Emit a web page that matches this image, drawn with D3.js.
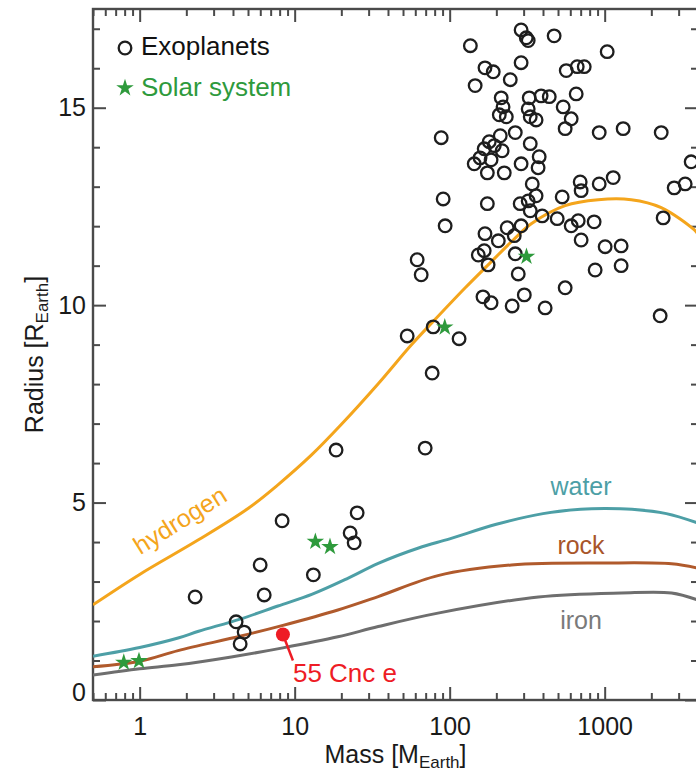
<!DOCTYPE html>
<html>
<head>
<meta charset="utf-8">
<script src="https://cdn.jsdelivr.net/npm/d3@7"></script>
<style>
  html, body { margin: 0; padding: 0; background: #fff; }
  svg { display: block; font-family: "Liberation Sans", Arial, Helvetica, sans-serif; }
</style>
</head>
<body>
<div id="chart"></div>
<script>
// Exoplanet mass (Earth masses) and radius (Earth radii)
const exoMass = [
  289, 312, 321, 472, 136, 1038, 289, 169, 191, 246,
  146, 565, 665, 738, 215, 326, 389, 439, 655, 221,
  209, 232, 321, 331, 361, 540, 608, 556, 88.2, 265,
  212, 331, 922, 1316, 2316, 144, 157, 167, 180, 194,
  185, 218, 175, 225, 289, 378, 372, 90.8, 175, 93.5,
  341, 361, 285, 321, 331, 532, 695, 705, 922, 1135,
  395, 494, 675, 608, 855, 235, 289, 169, 206, 261,
  705, 1007, 1277, 153, 167, 265, 2384, 2808, 3306, 3614,
  61.7, 65.5, 177, 277, 868, 1277, 164, 185, 303, 253,
  413, 556, 2280, 53.2, 78.3, 115, 77.1, 69.5, 18.5, 8.30,
  25.3, 22.8, 24.2, 5.99, 13.2, 2.28, 6.36, 4.19, 4.72, 4.45
];
const exoRadius = [
  16.97, 16.77, 16.70, 16.82, 16.57, 16.42, 16.14, 16.01, 15.91, 15.71,
  15.56, 15.94, 16.04, 16.04, 15.25, 15.25, 15.30, 15.28, 15.35, 15.02,
  14.82, 14.77, 14.97, 14.77, 14.69, 15.02, 14.72, 14.47, 14.24, 14.37,
  14.29, 14.09, 14.37, 14.47, 14.37, 13.58, 13.73, 13.96, 14.14, 14.04,
  13.68, 13.91, 13.35, 13.35, 13.58, 13.76, 13.48, 12.69, 12.57, 12.01,
  13.07, 12.77, 12.57, 12.64, 12.39, 12.74, 13.12, 12.90, 13.07, 13.23,
  12.26, 12.19, 12.14, 12.01, 12.11, 11.96, 12.01, 11.81, 11.63, 11.76,
  11.65, 11.48, 11.50, 11.27, 11.38, 11.30, 12.21, 12.97, 13.07, 13.63,
  11.15, 10.77, 11.02, 10.79, 10.89, 11.00, 10.21, 10.06, 10.26, 9.98,
  9.93, 10.44, 9.73, 9.22, 9.45, 9.15, 8.28, 6.38, 6.33, 4.54,
  4.74, 4.23, 3.98, 3.42, 3.17, 2.61, 2.66, 1.98, 1.72, 1.42
];

// Solar system planets
const solarNames  = ["Venus", "Earth", "Uranus", "Neptune", "Saturn", "Jupiter"];
const solarMass   = [0.79, 0.99, 13.6, 16.9, 93, 313];
const solarRadius = [0.95, 0.99, 4.01, 3.88, 9.44, 11.23];

// 55 Cancri e
const cncMass = 8.4;
const cncRadius = 1.66;
const cncLabel = "55 Cnc e";

// Mass-radius relations for pure compositions
const hydrogenMass   = [0.5, 1, 2.38, 5.0, 7.8, 12.8, 19.9, 34.6, 56.5, 78, 126, 177, 257, 336, 556, 908, 1483, 2317, 3776, 4000];
const hydrogenRadius = [2.41, 3.18, 4.05, 4.85, 5.45, 6.2, 6.97, 8.01, 8.99, 9.58, 10.44, 11.02, 11.65, 12.06, 12.52, 12.67, 12.67, 12.47, 11.91, 11.8];
const waterMass   = [0.5, 1, 1.77, 2.4, 4.45, 7.8, 13, 22, 34.6, 63, 100, 200, 400, 700, 1000, 1500, 2500, 4000];
const waterRadius = [1.11, 1.33, 1.57, 1.74, 2.05, 2.38, 2.68, 3.08, 3.46, 3.85, 4.08, 4.45, 4.72, 4.83, 4.85, 4.83, 4.72, 4.48];
const rockMass   = [0.5, 1, 1.77, 4.5, 8.4, 19, 34.6, 84, 250, 1000, 2700, 4000];
const rockRadius = [0.84, 0.98, 1.25, 1.62, 1.89, 2.28, 2.62, 3.15, 3.42, 3.47, 3.45, 3.34];
const ironMass   = [0.5, 1, 1.77, 3.9, 8.4, 19, 34.6, 84, 374, 1280, 2700, 4000];
const ironRadius = [0.63, 0.79, 0.89, 1.09, 1.32, 1.6, 1.86, 2.2, 2.61, 2.71, 2.71, 2.53];

const curveNames  = ["hydrogen", "water", "rock", "iron"];

// Axis ticks
const xMajorTicks = [1, 10, 100, 1000];
const xTickLabels = ["1", "10", "100", "1000"];
const yMajorTicks = [0, 5, 10, 15];
const yTickLabels = ["0", "5", "10", "15"];
const legendLabels = ["Exoplanets", "Solar system"];

const W = 696, H = 773;
const plot = { left: 93, top: 9, right: 698, bottom: 700 };
const axisColor = "#4a4a4a";

const svg = d3.select("#chart").append("svg")
  .attr("width", W).attr("height", H);

const x = d3.scaleLog().domain([0.5, 4000]).range([plot.left, plot.right]);
const y = d3.scaleLinear().domain([0, 17.5]).range([plot.bottom, plot.top]);

// minor ticks: 2..9 within each decade, and every unit in radius
const xMinorTicks = [];
for (let d = 0.1; d <= 1000; d *= 10) {
  for (let k = 2; k <= 9; k++) {
    const v = +(k * d).toPrecision(3);
    if (v >= 0.5 && v <= 4000 && !xMajorTicks.includes(v)) xMinorTicks.push(v);
  }
}
const yMinorTicks = d3.range(0, 18).filter(v => !yMajorTicks.includes(v));

svg.append("defs").append("clipPath").attr("id", "plotClip")
  .append("rect")
  .attr("x", plot.left).attr("y", plot.top)
  .attr("width", plot.right - plot.left).attr("height", plot.bottom - plot.top);

const MAJ = 13, MIN = 7;

function styleAxis(g) {
  g.select(".domain").remove();
  g.selectAll(".tick line").attr("stroke", axisColor).attr("stroke-width", 2);
  g.selectAll(".tick text").attr("fill", "#1a1a1a").style("font-size", "25px")
    .style("font-family", "'Liberation Sans', Arial, sans-serif");
}

// bottom axis
svg.append("g").attr("transform", `translate(0,${plot.bottom})`)
  .call(d3.axisBottom(x).tickValues(xMajorTicks).tickFormat((d, i) => xTickLabels[i])
    .tickSizeInner(-MAJ).tickSizeOuter(0).tickPadding(17))
  .call(styleAxis);
svg.append("g").attr("transform", `translate(0,${plot.bottom})`)
  .call(d3.axisBottom(x).tickValues(xMinorTicks).tickFormat("").tickSizeInner(-MIN).tickSizeOuter(0))
  .call(styleAxis);
// top axis
svg.append("g").attr("transform", `translate(0,${plot.top})`)
  .call(d3.axisTop(x).tickValues(xMajorTicks).tickFormat("").tickSizeInner(-MAJ).tickSizeOuter(0))
  .call(styleAxis);
svg.append("g").attr("transform", `translate(0,${plot.top})`)
  .call(d3.axisTop(x).tickValues(xMinorTicks).tickFormat("").tickSizeInner(-MIN).tickSizeOuter(0))
  .call(styleAxis);
// left axis
const leftAxis = svg.append("g").attr("transform", `translate(${plot.left},0)`)
  .call(d3.axisLeft(y).tickValues(yMajorTicks).tickFormat((d, i) => yTickLabels[i])
    .tickSizeInner(-MAJ).tickSizeOuter(0).tickPadding(7))
  .call(styleAxis);
// keep the zero label clear of the bottom axis labels
leftAxis.selectAll(".tick").filter(d => d === 0).select("text").attr("dy", "0.0em");
svg.append("g").attr("transform", `translate(${plot.left},0)`)
  .call(d3.axisLeft(y).tickValues(yMinorTicks).tickFormat("").tickSizeInner(-MIN).tickSizeOuter(0))
  .call(styleAxis);
// right axis
svg.append("g").attr("transform", `translate(${plot.right},0)`)
  .call(d3.axisRight(y).tickValues(yMajorTicks).tickFormat("").tickSizeInner(-MAJ).tickSizeOuter(0))
  .call(styleAxis);
svg.append("g").attr("transform", `translate(${plot.right},0)`)
  .call(d3.axisRight(y).tickValues(yMinorTicks).tickFormat("").tickSizeInner(-MIN).tickSizeOuter(0))
  .call(styleAxis);

// frame
svg.append("rect")
  .attr("x", plot.left).attr("y", plot.top)
  .attr("width", plot.right - plot.left).attr("height", plot.bottom - plot.top)
  .attr("fill", "none").attr("stroke", axisColor).attr("stroke-width", 2.4);

// composition curves
const curves = [
  { name: curveNames[0], mass: hydrogenMass, radius: hydrogenRadius, color: "#f4a51c" },
  { name: curveNames[1], mass: waterMass, radius: waterRadius, color: "#4d9fa6" },
  { name: curveNames[2], mass: rockMass, radius: rockRadius, color: "#b05a2c" },
  { name: curveNames[3], mass: ironMass, radius: ironRadius, color: "#6e6e6e" }
];
const line = d3.line()
  .x(d => x(d[0])).y(d => y(d[1]))
  .curve(d3.curveCatmullRom.alpha(0.5));
const curveG = svg.append("g").attr("clip-path", "url(#plotClip)");
curves.forEach(c => {
  curveG.append("path")
    .datum(c.mass.map((m, i) => [m, c.radius[i]]))
    .attr("d", line)
    .attr("fill", "none")
    .attr("stroke", c.color)
    .attr("stroke-width", 3)
    .attr("stroke-linejoin", "round");
});

// curve labels
svg.append("text")
  .attr("transform", `translate(181,522) rotate(-32)`)
  .attr("text-anchor", "middle").attr("dominant-baseline", "middle")
  .attr("fill", "#f4a51c").style("font-size", "25px")
  .text(curveNames[0]);
svg.append("text").attr("x", 581).attr("y", 488)
  .attr("text-anchor", "middle").attr("dominant-baseline", "middle")
  .attr("fill", "#4d9fa6").style("font-size", "25px").text(curveNames[1]);
svg.append("text").attr("x", 581).attr("y", 547)
  .attr("text-anchor", "middle").attr("dominant-baseline", "middle")
  .attr("fill", "#a8552a").style("font-size", "25px").text(curveNames[2]);
svg.append("text").attr("x", 581).attr("y", 622)
  .attr("text-anchor", "middle").attr("dominant-baseline", "middle")
  .attr("fill", "#7a7a7a").style("font-size", "25px").text(curveNames[3]);

// exoplanets
const circleR = 6.3;
svg.append("g").attr("clip-path", "url(#plotClip)")
  .selectAll("circle")
  .data(exoMass.map((m, i) => [m, exoRadius[i]]))
  .join("circle")
  .attr("cx", d => x(d[0])).attr("cy", d => y(d[1]))
  .attr("r", circleR)
  .attr("fill", "none").attr("stroke", "#1e1e1e").attr("stroke-width", 2.3);

// solar system planets
const star = d3.symbol().type(d3.symbolStar).size(95);
const green = "#2e9a3c";
svg.append("g")
  .selectAll("path")
  .data(solarMass.map((m, i) => ({ name: solarNames[i], m, r: solarRadius[i] })))
  .join("path")
  .attr("d", star)
  .attr("transform", d => `translate(${x(d.m)},${y(d.r)})`)
  .attr("fill", green);

// 55 Cnc e marker with leader line
const cx = x(cncMass), cy = y(cncRadius);
svg.append("line")
  .attr("x1", cx).attr("y1", cy).attr("x2", cx + 10).attr("y2", cy + 26)
  .attr("stroke", "#ee1c25").attr("stroke-width", 2.5);
svg.append("circle").attr("cx", cx).attr("cy", cy).attr("r", 7).attr("fill", "#ee1c25");
svg.append("text").attr("x", cx + 10).attr("y", cy + 48)
  .attr("fill", "#ee1c25").style("font-size", "26px").text(cncLabel);

// legend
svg.append("circle").attr("cx", 125).attr("cy", 48).attr("r", circleR)
  .attr("fill", "none").attr("stroke", "#1e1e1e").attr("stroke-width", 2.3);
svg.append("text").attr("x", 141).attr("y", 48).attr("dominant-baseline", "middle")
  .attr("fill", "#111").style("font-size", "26px").text(legendLabels[0]);
svg.append("path").attr("d", star).attr("transform", "translate(125,88)").attr("fill", green);
svg.append("text").attr("x", 141).attr("y", 89).attr("dominant-baseline", "middle")
  .attr("fill", green).style("font-size", "26px").text(legendLabels[1]);

// axis titles
const xt = svg.append("text").attr("x", (plot.left + plot.right) / 2).attr("y", 763)
  .attr("text-anchor", "middle").attr("fill", "#1a1a1a").style("font-size", "25px");
xt.append("tspan").text("Mass [M");
xt.append("tspan").attr("dy", 5).style("font-size", "17px").text("Earth");
xt.append("tspan").attr("dy", -5).text("]");

const yt = svg.append("text")
  .attr("transform", `translate(43,${(plot.top + plot.bottom) / 2}) rotate(-90)`)
  .attr("text-anchor", "middle").attr("fill", "#1a1a1a").style("font-size", "25px");
yt.append("tspan").text("Radius [R");
yt.append("tspan").attr("dy", 5).style("font-size", "17px").text("Earth");
yt.append("tspan").attr("dy", -5).text("]");
</script>
</body>
</html>
